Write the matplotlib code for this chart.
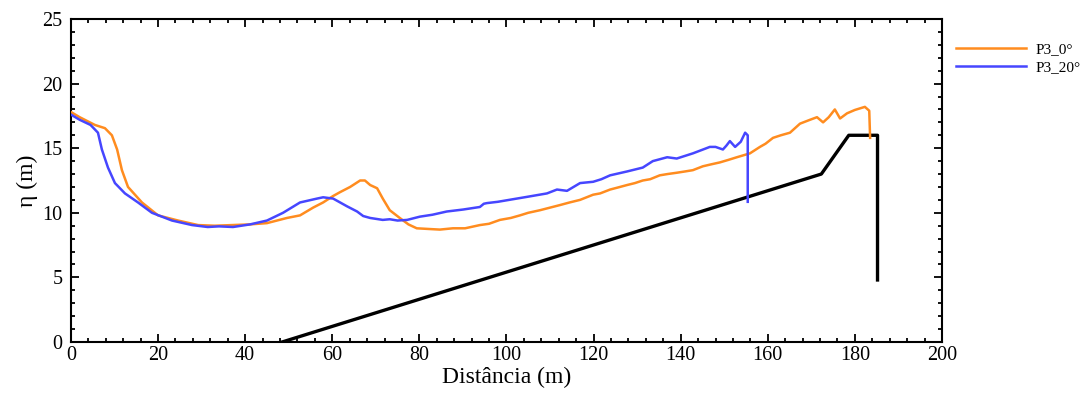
import numpy as np
import matplotlib
matplotlib.use("Agg")
import matplotlib.pyplot as plt
from matplotlib.ticker import MultipleLocator

plt.rcParams['font.family'] = ['Liberation Serif', 'DejaVu Serif']

# P3_0 deg free surface
x_p3_0 = [0, 2, 5.5, 7.8, 9.4, 10.6, 11.7, 13.1, 16.3, 20,
          24.6, 29.2, 33, 37, 41, 45, 49.6, 52.6, 55.6, 57.9,
          60.2, 61.8, 64.1, 66.4, 67.5, 68.7, 70.3, 71.6, 73.2, 75.5,
          77.5, 79.4, 82, 84.7, 87.7, 90.5, 93.9, 96, 98.5, 101,
          103.1, 105, 107.7, 110, 112.3, 114.5, 116.9, 119.9, 121.5, 123.8,
          125.5, 127.7, 129.5, 131.3, 133, 135.2, 137, 139.1, 141, 142.8,
          145.1, 147, 149, 151, 152.9, 155.9, 158.2, 159.5, 161.2, 163,
          165.1, 167.4, 169.7, 171.3, 172.7, 174, 175.4, 176.6, 178.2, 180,
          182.3, 183.3, 183.5]
y_p3_0 = [17.8, 17.4, 16.8, 16.55, 16.0, 14.9, 13.3, 12.0, 10.8, 9.8,
          9.4, 9.05, 9.0, 9.05, 9.1, 9.2, 9.6, 9.8, 10.4, 10.8,
          11.3, 11.6, 12.0, 12.5, 12.5, 12.15, 11.9, 11.1, 10.2, 9.6,
          9.1, 8.8, 8.75, 8.7, 8.8, 8.8, 9.05, 9.15, 9.45, 9.6,
          9.8, 10.0, 10.2, 10.4, 10.6, 10.8, 11.0, 11.4, 11.5, 11.8,
          11.95, 12.15, 12.3, 12.5, 12.6, 12.9, 13.0, 13.1, 13.2, 13.3,
          13.6, 13.75, 13.9, 14.1, 14.3, 14.6, 15.1, 15.35, 15.8, 16.0,
          16.2, 16.9, 17.2, 17.4, 17.0, 17.4, 18.0, 17.3, 17.7, 17.96,
          18.2, 17.9, 15.8]

# P3_20 deg free surface
x_p3_20 = [0, 2, 4.5, 6.2, 7.1, 8.5, 10.1, 12.4, 15.4, 18.6,
           23.2, 27.8, 31.4, 34, 37.2, 41.1, 45, 48.7, 52.6, 56.5,
           57.9, 60.2, 63.4, 65.7, 67.1, 68.7, 71.6, 73.2, 75, 77.2,
           80.1, 83, 86.3, 90, 93.9, 94.8, 95.5, 98, 101.5, 105,
           109.3, 111.6, 113.9, 116.9, 119.9, 121.8, 123.8, 127.7, 131.3, 133.6,
           136.9, 139.1, 142.8, 146.7, 148, 149.7, 150.5, 151.3, 152.5, 153.8,
           154.8, 155.4, 155.4]
y_p3_20 = [17.6, 17.2, 16.8, 16.2, 14.9, 13.5, 12.3, 11.5, 10.8, 10.0,
           9.4, 9.05, 8.9, 8.95, 8.9, 9.1, 9.4, 10.0, 10.8, 11.1,
           11.2, 11.1, 10.5, 10.1, 9.75, 9.6, 9.45, 9.5, 9.4, 9.45,
           9.7, 9.85, 10.1, 10.25, 10.45, 10.7, 10.75, 10.85, 11.05, 11.25,
           11.5, 11.8, 11.7, 12.3, 12.4, 12.6, 12.9, 13.2, 13.5, 14.0,
           14.3, 14.2, 14.6, 15.1, 15.1, 14.9, 15.2, 15.55, 15.1, 15.5,
           16.2, 16.0, 10.85]

# bottom / structure profile
x_bottom = [48.5, 172.3, 178.6, 185.2, 185.2]
y_bottom = [0, 13.0, 16.0, 16.0, 4.8]

fig = plt.figure(figsize=(10.8, 3.96), dpi=100)
ax = fig.add_axes([0.0657, 0.1364, 0.8065, 0.8156])

ax.plot(x_bottom, y_bottom, color='black', linewidth=2.4, zorder=2)
ax.plot(x_p3_0, y_p3_0, color='#ff8c1f', linewidth=1.8, label='P3_0°', zorder=3)
ax.plot(x_p3_20, y_p3_20, color='#4646ff', linewidth=1.8, label='P3_20°', zorder=3)

ax.set_xlim(0, 200)
ax.set_ylim(0, 25)
ax.xaxis.set_major_locator(MultipleLocator(20))
ax.xaxis.set_minor_locator(MultipleLocator(4))
ax.yaxis.set_major_locator(MultipleLocator(5))
ax.yaxis.set_minor_locator(MultipleLocator(1))
ax.tick_params(which='both', direction='in', top=True, right=True, labelsize=14.5, width=1.3)
ax.tick_params(which='major', length=5.5)
ax.tick_params(which='minor', length=3)
ax.tick_params(axis='x', which='major', pad=3)
ax.tick_params(axis='y', which='major', pad=6)
for s in ax.spines.values():
    s.set_linewidth(1.5)

ax.set_xlabel('Distância (m)', fontsize=17, labelpad=1)
ax.set_ylabel('η (m)', fontsize=17, labelpad=3)

ax.legend(loc='upper left', bbox_to_anchor=(1.0, 0.97), frameon=False,
          fontsize=11, handlelength=4.6, handletextpad=0.6, labelspacing=0.3)

fig.savefig('out.png', dpi=100)
